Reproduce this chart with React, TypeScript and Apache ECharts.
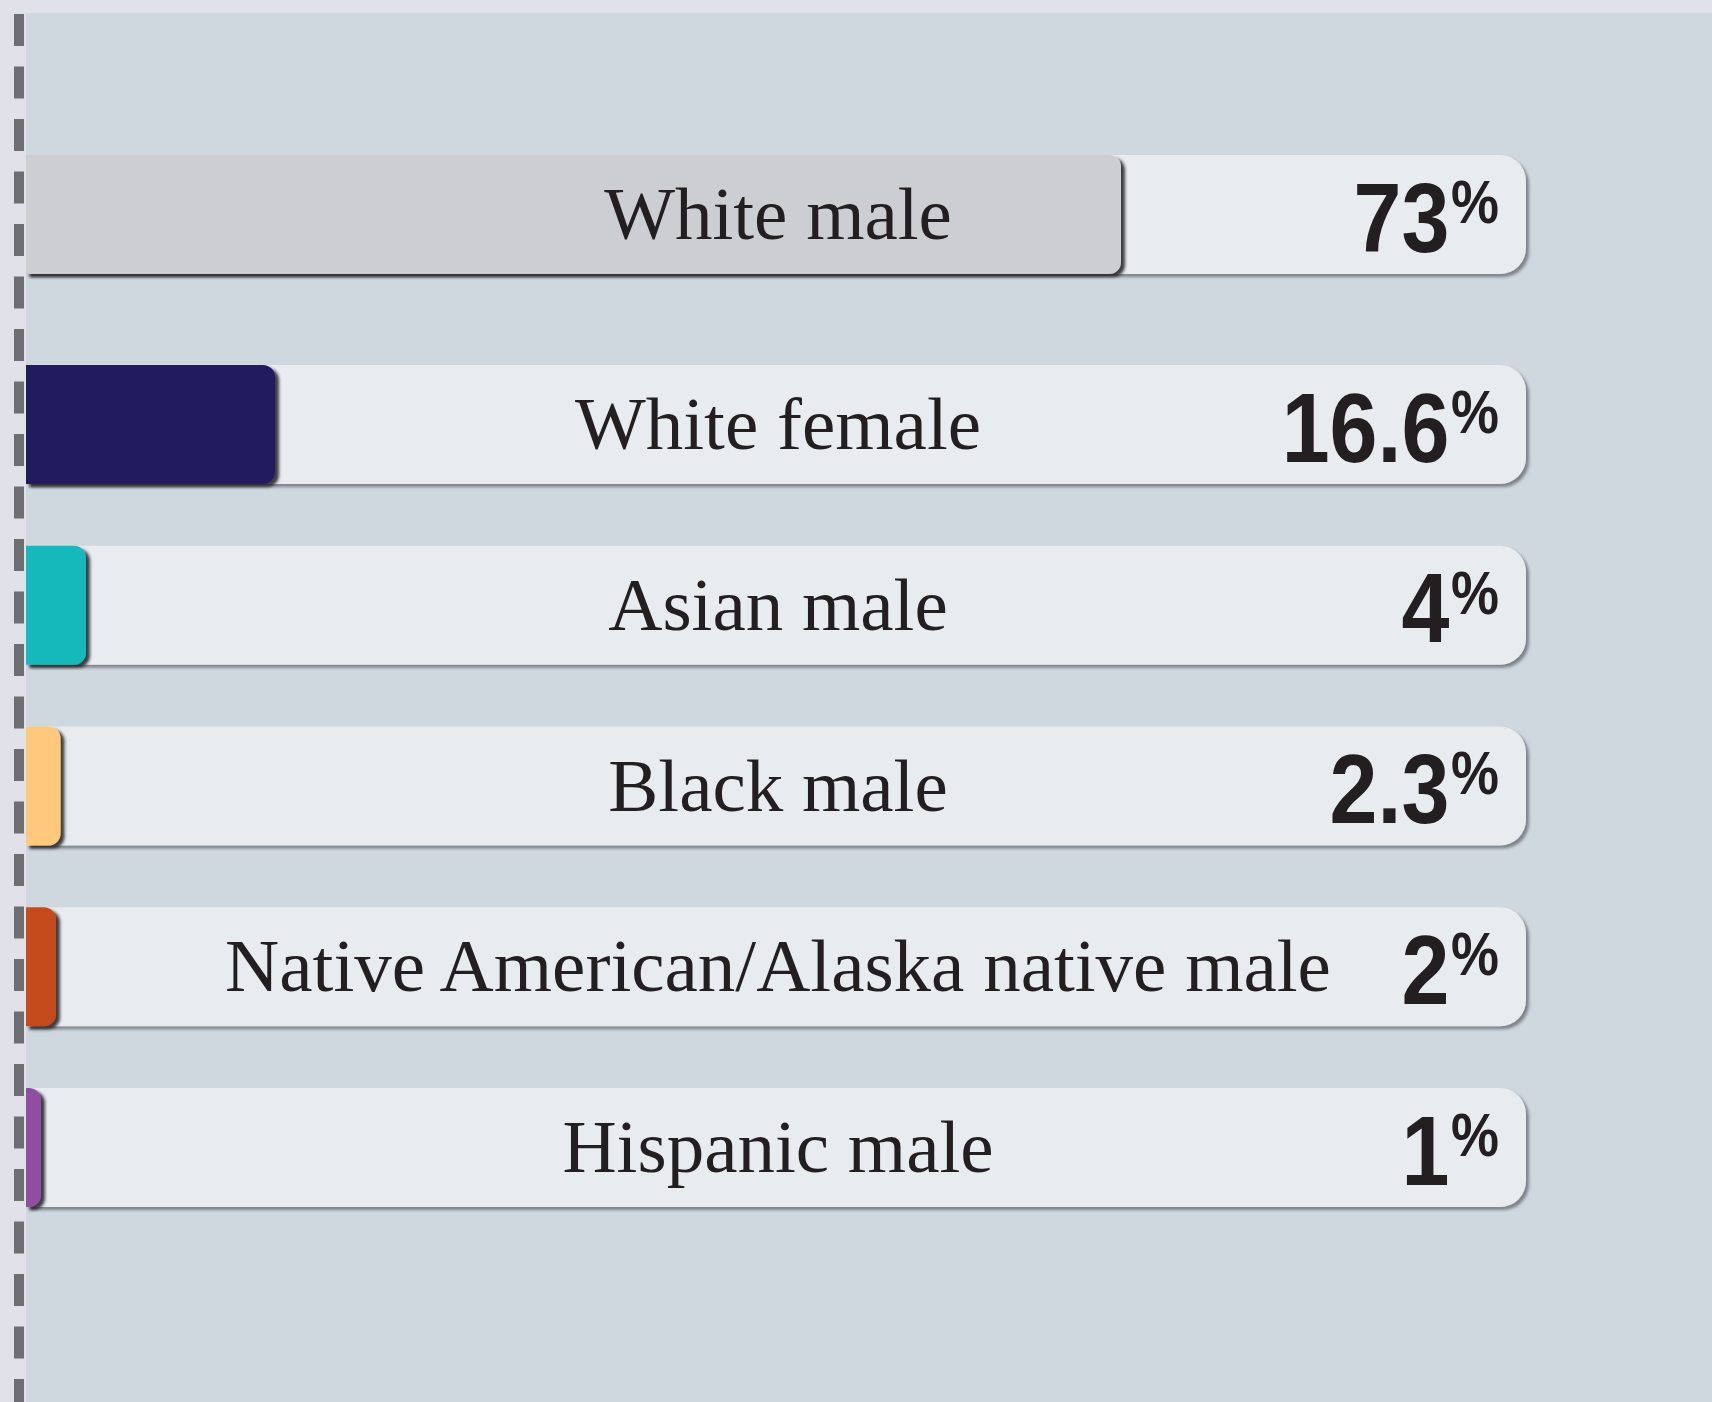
import React, { useEffect, useRef } from "react";
import * as echarts from "echarts";

const CATEGORIES = [
  "White male",
  "White female",
  "Asian male",
  "Black male",
  "Native American/Alaska native male",
  "Hispanic male",
];
const VALUES = [73, 16.6, 4, 2.3, 2, 1];
const COLORS = ["#cdced1", "#241f5e", "#12b9bb", "#fec97d", "#c64b1c", "#8e4fa0"];
const AXIS_MAX = 100;

const SANS = '"Liberation Sans", Arial, sans-serif';

function seriesFor(g: number, cats: string[], vals: number[], cols: string[]) {
  const base = {
    type: "bar",
    xAxisIndex: g,
    yAxisIndex: g,
    barWidth: 119,
    barGap: "-100%",
    silent: true,
    animation: false,
  };
  return [
    {
      ...base,
      name: "track" + g,
      z: 2,
      data: cats.map(() => AXIS_MAX),
      itemStyle: {
        color: "#e8ecef",
        borderRadius: [0, 26, 26, 0],
        shadowColor: "rgba(70,75,82,0.6)",
        shadowBlur: 3,
        shadowOffsetX: 3,
        shadowOffsetY: 3,
      },
    },
    {
      ...base,
      name: "value" + g,
      z: 3,
      data: vals.map((v, j) => ({ value: v, itemStyle: { color: cols[j] } })),
      itemStyle: {
        borderRadius: [0, 12, 12, 0],
        shadowColor: "rgba(35,35,38,0.85)",
        shadowBlur: 3,
        shadowOffsetX: 4,
        shadowOffsetY: 3,
      },
    },
    {
      ...base,
      name: "names" + g,
      z: 4,
      data: cats.map(() => AXIS_MAX),
      itemStyle: { color: "rgba(0,0,0,0)" },
      label: {
        show: true,
        position: "inside",
        offset: [2, -1],
        formatter: (p: any) => cats[p.dataIndex],
        fontFamily: '"Liberation Serif", "DejaVu Serif", serif',
        fontSize: 75,
        color: "#231f20",
      },
    },
    {
      type: "custom",
      name: "pct" + g,
      xAxisIndex: g,
      yAxisIndex: g,
      z: 5,
      silent: true,
      animation: false,
      data: vals.map((v, j) => [AXIS_MAX, j, v]),
      encode: { x: 0, y: 1 },
      renderItem: (params: any, api: any) => {
        const pt = api.coord([api.value(0), api.value(1)]);
        const v = api.value(2);
        return {
          type: "text",
          x: pt[0] - 27,
          y: pt[1] + 3,
          scaleX: 0.87,
          style: {
            text: `{n|${v}}{p|%}`,
            x: 0,
            y: 0,
            align: "right",
            verticalAlign: "middle",
            rich: {
              n: {
                fontFamily: SANS,
                fontWeight: "bold",
                fontSize: 99,
                fill: "#231f20",
                color: "#231f20",
              },
              p: {
                fontFamily: SANS,
                fontWeight: "bold",
                fontSize: 62,
                fill: "#231f20",
                color: "#231f20",
                verticalAlign: "top",
                padding: [2, 0, 0, 2],
              },
            },
          },
        };
      },
    },
  ];
}

export default function App() {
  const ref = useRef<HTMLDivElement>(null);
  useEffect(() => {
    document.body.style.margin = "0";
    if (!ref.current) return;
    const chart = echarts.init(ref.current, undefined, { renderer: "svg" });
    const cats1 = CATEGORIES.slice(0, 1);
    const cats2 = CATEGORIES.slice(1);
    const vals1 = VALUES.slice(0, 1);
    const vals2 = VALUES.slice(1);
    const cols1 = COLORS.slice(0, 1);
    const cols2 = COLORS.slice(1);
    chart.setOption({
      animation: false,
      backgroundColor: "#e1e1ea",
      graphic: [
        {
          type: "rect",
          z: 0,
          silent: true,
          shape: { x: 26, y: 13, width: 1686, height: 1389 },
          style: { fill: "#cfd7df" },
        },
        {
          type: "line",
          z: 0,
          silent: true,
          shape: { x1: 19, y1: 14, x2: 19, y2: 1402 },
          style: { stroke: "#6d6e72", lineWidth: 10, lineDash: [32, 20.5] },
        },
      ],
      grid: [
        { left: 26, width: 1500, top: 124.5, height: 180 },
        { left: 26, width: 1500, top: 334, height: 904 },
      ],
      xAxis: [
        { gridIndex: 0, type: "value", min: 0, max: AXIS_MAX, show: false },
        { gridIndex: 1, type: "value", min: 0, max: AXIS_MAX, show: false },
      ],
      yAxis: [
        { gridIndex: 0, type: "category", data: cats1, inverse: true, show: false },
        { gridIndex: 1, type: "category", data: cats2, inverse: true, show: false },
      ],
      series: [...seriesFor(0, cats1, vals1, cols1), ...seriesFor(1, cats2, vals2, cols2)],
    });
    return () => chart.dispose();
  }, []);
  return <div ref={ref} style={{ width: 1712, height: 1402 }} />;
}
